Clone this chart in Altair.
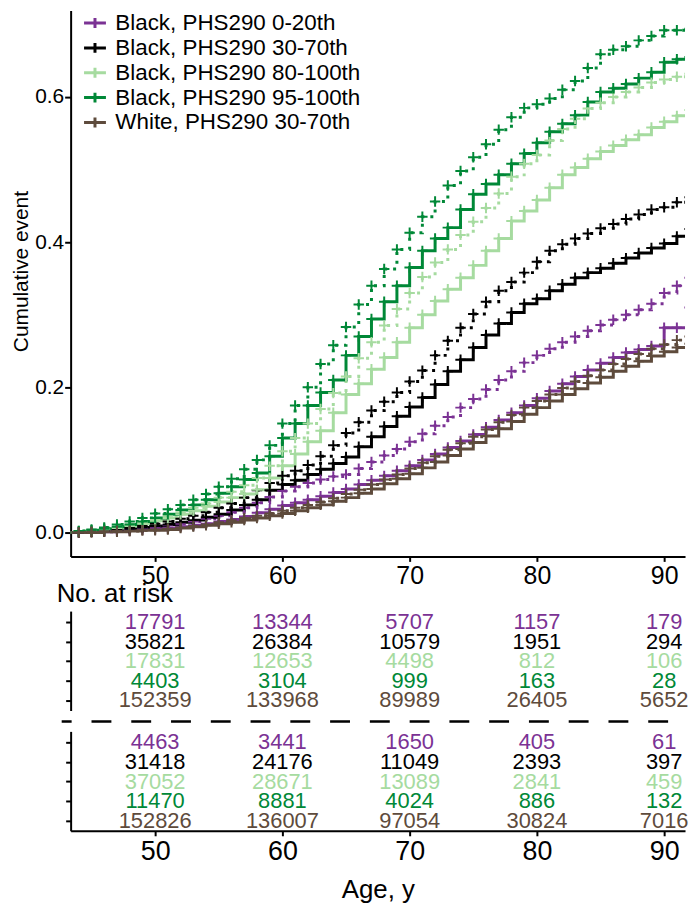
import altair as alt
import pandas as pd

groups = ["Black, PHS290 0-20th", "Black, PHS290 30-70th", "Black, PHS290 80-100th",
          "Black, PHS290 95-100th", "White, PHS290 30-70th"]
colors = ["#7B3294", "#000000", "#A6DBA0", "#008837", "#5E4B3C"]

ages = list(range(43, 93))

# cumulative event, one value per year of age (43..92)
b0_sol = [0.000, 0.000, 0.001, 0.001, 0.002, 0.003, 0.004, 0.005, 0.006, 0.008,
          0.010, 0.012, 0.015, 0.018, 0.022, 0.027, 0.032, 0.037, 0.041, 0.045,
          0.050, 0.055, 0.060, 0.066, 0.072, 0.078, 0.085, 0.092, 0.100, 0.108,
          0.117, 0.126, 0.135, 0.145, 0.155, 0.165, 0.175, 0.185, 0.195, 0.205,
          0.215, 0.224, 0.233, 0.241, 0.248, 0.252, 0.257, 0.282, 0.282, 0.310]
b0_dot = [0.000, 0.001, 0.001, 0.002, 0.003, 0.004, 0.006, 0.008, 0.010, 0.012,
          0.015, 0.019, 0.023, 0.028, 0.034, 0.041, 0.049, 0.057, 0.063, 0.068,
          0.073, 0.077, 0.080, 0.088, 0.097, 0.106, 0.115, 0.125, 0.136, 0.147,
          0.159, 0.172, 0.184, 0.197, 0.210, 0.222, 0.234, 0.244, 0.253, 0.262,
          0.270, 0.278, 0.286, 0.293, 0.300, 0.307, 0.315, 0.330, 0.340, 0.351]
b30_sol = [0.000, 0.000, 0.001, 0.002, 0.003, 0.005, 0.007, 0.009, 0.011, 0.014,
           0.017, 0.021, 0.025, 0.031, 0.038, 0.045, 0.058, 0.066, 0.072, 0.080,
           0.087, 0.095, 0.104, 0.118, 0.132, 0.146, 0.160, 0.173, 0.186, 0.204,
           0.222, 0.238, 0.255, 0.272, 0.288, 0.303, 0.315, 0.322, 0.333, 0.342,
           0.351, 0.358, 0.364, 0.371, 0.378, 0.385, 0.392, 0.398, 0.408, 0.418]
b30_dot = [0.000, 0.001, 0.002, 0.003, 0.005, 0.007, 0.009, 0.012, 0.015, 0.019,
           0.023, 0.028, 0.034, 0.040, 0.048, 0.058, 0.068, 0.078, 0.085, 0.093,
           0.105, 0.120, 0.137, 0.152, 0.168, 0.180, 0.193, 0.208, 0.223, 0.244,
           0.264, 0.282, 0.301, 0.318, 0.333, 0.345, 0.358, 0.373, 0.388, 0.397,
           0.405, 0.412, 0.419, 0.425, 0.432, 0.438, 0.445, 0.448, 0.455, 0.462]
b80_sol = [0.000, 0.001, 0.002, 0.004, 0.006, 0.009, 0.012, 0.016, 0.020, 0.025,
           0.030, 0.036, 0.042, 0.048, 0.053, 0.059, 0.075, 0.092, 0.108, 0.125,
           0.140, 0.165, 0.190, 0.205, 0.225, 0.241, 0.262, 0.282, 0.300, 0.319,
           0.335, 0.351, 0.368, 0.388, 0.405, 0.429, 0.443, 0.458, 0.475, 0.493,
           0.503, 0.515, 0.525, 0.533, 0.541, 0.548, 0.558, 0.566, 0.574, 0.582]
b80_dot = [0.000, 0.002, 0.003, 0.005, 0.008, 0.011, 0.014, 0.018, 0.023, 0.028,
           0.034, 0.040, 0.048, 0.056, 0.065, 0.075, 0.092, 0.112, 0.130, 0.150,
           0.170, 0.192, 0.215, 0.240, 0.262, 0.285, 0.308, 0.330, 0.352, 0.372,
           0.390, 0.410, 0.428, 0.447, 0.467, 0.490, 0.508, 0.520, 0.540, 0.556,
           0.570, 0.584, 0.592, 0.600, 0.607, 0.613, 0.620, 0.624, 0.628, 0.632]
b95_sol = [0.000, 0.001, 0.003, 0.005, 0.008, 0.011, 0.015, 0.020, 0.025, 0.031,
           0.038, 0.045, 0.054, 0.063, 0.073, 0.082, 0.105, 0.130, 0.150, 0.175,
           0.193, 0.210, 0.244, 0.270, 0.294, 0.318, 0.340, 0.365, 0.388, 0.405,
           0.420, 0.445, 0.466, 0.480, 0.493, 0.508, 0.522, 0.537, 0.552, 0.563,
           0.575, 0.593, 0.607, 0.612, 0.618, 0.626, 0.634, 0.648, 0.652, 0.655]
b95_dot = [0.000, 0.002, 0.004, 0.007, 0.011, 0.015, 0.020, 0.026, 0.032, 0.038,
           0.045, 0.053, 0.063, 0.074, 0.087, 0.100, 0.120, 0.150, 0.175, 0.200,
           0.232, 0.258, 0.283, 0.314, 0.340, 0.363, 0.390, 0.413, 0.435, 0.456,
           0.478, 0.498, 0.517, 0.535, 0.555, 0.572, 0.585, 0.590, 0.598, 0.610,
           0.622, 0.640, 0.659, 0.665, 0.670, 0.678, 0.684, 0.692, 0.692, 0.694]
w30_sol = [0.000, 0.000, 0.000, 0.001, 0.001, 0.002, 0.003, 0.003, 0.004, 0.006,
           0.008, 0.010, 0.012, 0.014, 0.017, 0.020, 0.023, 0.026, 0.030, 0.034,
           0.038, 0.043, 0.048, 0.054, 0.060, 0.067, 0.074, 0.081, 0.089, 0.097,
           0.106, 0.115, 0.124, 0.133, 0.143, 0.153, 0.163, 0.172, 0.181, 0.190,
           0.198, 0.206, 0.214, 0.222, 0.229, 0.236, 0.243, 0.249, 0.255, 0.260]
w30_dot = [0.000, 0.000, 0.001, 0.001, 0.002, 0.002, 0.003, 0.004, 0.005, 0.007,
           0.009, 0.011, 0.014, 0.017, 0.020, 0.023, 0.026, 0.030, 0.034, 0.038,
           0.042, 0.047, 0.053, 0.059, 0.066, 0.073, 0.080, 0.088, 0.096, 0.105,
           0.114, 0.123, 0.132, 0.142, 0.152, 0.162, 0.172, 0.181, 0.190, 0.199,
           0.208, 0.216, 0.224, 0.232, 0.239, 0.246, 0.253, 0.259, 0.265, 0.270]

solid = dict(zip(groups, [b0_sol, b30_sol, b80_sol, b95_sol, w30_sol]))
dotted = dict(zip(groups, [b0_dot, b30_dot, b80_dot, b95_dot, w30_dot]))

risk_ages = [50, 60, 70, 80, 90]
risk1 = {
    groups[0]: [17791, 13344, 5707, 1157, 179],
    groups[1]: [35821, 26384, 10579, 1951, 294],
    groups[2]: [17831, 12653, 4498, 812, 106],
    groups[3]: [4403, 3104, 999, 163, 28],
    groups[4]: [152359, 133968, 89989, 26405, 5652],
}
risk2 = {
    groups[0]: [4463, 3441, 1650, 405, 61],
    groups[1]: [31418, 24176, 11049, 2393, 397],
    groups[2]: [37052, 28671, 13089, 2841, 459],
    groups[3]: [11470, 8881, 4024, 886, 132],
    groups[4]: [152826, 136007, 97054, 30824, 7016],
}

rows = []
for g in groups:
    for a, v in zip(ages, solid[g]):
        rows.append({"group": g, "cohort": "solid", "age": a, "value": v})
    for a, v in zip(ages, dotted[g]):
        rows.append({"group": g, "cohort": "dotted", "age": a, "value": v})
df = pd.DataFrame(rows)

FONT = "Liberation Sans"
W = 618
cscale = alt.Scale(domain=groups, range=colors)
xscale = alt.Scale(domain=[43.36, 91.64], nice=False, zero=False)

x_main = alt.X("age:Q", scale=xscale,
               axis=alt.Axis(values=risk_ages, title=None, labelFontSize=25, tickSize=5,
                             labelPadding=2, domainWidth=2, tickWidth=2, grid=False))
y_main = alt.Y("value:Q", scale=alt.Scale(domain=[-0.033, 0.719], nice=False, zero=False),
               axis=alt.Axis(values=[0, 0.2, 0.4, 0.6], format=".1f", title="Cumulative event",
                             titleFontSize=21, titleFontWeight="normal", labelFontSize=21,
                             tickSize=6, labelPadding=1, titleX=-60, titleY=262,
                             titleBaseline="top", grid=False, domainWidth=2, tickWidth=2))

legend = alt.Legend(title=None, orient="none", legendX=12, legendY=0, padding=0,
                    labelFontSize=22.5, symbolType="M-1,0L1,0M0,-0.45L0,0.45",
                    symbolSize=484, symbolStrokeWidth=3, labelOffset=8, rowPadding=1,
                    labelFont=FONT, labelColor="black", labelLimit=0)

lines = alt.Chart(df).mark_line(interpolate="step-after", strokeWidth=3, clip=True).encode(
    x=x_main, y=y_main,
    color=alt.Color("group:N", scale=cscale, legend=legend),
    strokeDash=alt.StrokeDash("cohort:N",
                              scale=alt.Scale(domain=["solid", "dotted"], range=[[1, 0], [3, 6]]),
                              legend=None),
    detail="cohort:N",
)
pts = alt.Chart(df).mark_point(shape="M-1,0L1,0M0,-1L0,1", size=110, strokeWidth=2,
                               filled=False, opacity=1, clip=True).encode(
    x=x_main, y=y_main,
    color=alt.Color("group:N", scale=cscale, legend=None),
)
main = alt.layer(lines, pts).properties(width=W, height=549)


def block(risk, show_x, title=None):
    recs = []
    for i, g in enumerate(groups):
        for a, n in zip(risk_ages, risk[g]):
            recs.append({"group": g, "row": i + 1, "age": a, "n": str(n)})
    rdf = pd.DataFrame(recs)
    if show_x:
        xax = alt.Axis(values=risk_ages, title="Age, y", titleFontSize=26, titleFontWeight="normal",
                       titlePadding=12, labelFontSize=27, tickSize=5, labelPadding=3,
                       domainWidth=2, tickWidth=2, grid=False)
    else:
        xax = None
    txt = alt.Chart(rdf).mark_text(fontSize=22, font=FONT).encode(
        x=alt.X("age:Q", scale=xscale, axis=xax),
        y=alt.Y("row:Q", scale=alt.Scale(domain=[0.44, 5.51], reverse=True, nice=False, zero=False),
                axis=alt.Axis(values=[1, 2, 3, 4, 5], labels=False, title=None, tickSize=5,
                              domainWidth=2, tickWidth=2, grid=False)),
        text="n:N",
        color=alt.Color("group:N", scale=cscale, legend=None),
    )
    layers = [txt]
    if show_x:
        sep = alt.Chart(pd.DataFrame({"k": [0]})).mark_rule(
            strokeDash=[20, 20], strokeDashOffset=10, strokeWidth=2.5, color="black").encode(
            x=alt.value(-9), x2=alt.value(W), y=alt.value(-10))
        layers.append(sep)
    ch = alt.layer(*layers).properties(width=W, height=100)
    if title:
        ch = ch.properties(title=alt.TitleParams(title, anchor="start", fontSize=26,
                                                 fontWeight="normal", offset=4, dx=-8,
                                                 font=FONT, color="black"))
    return ch


b1 = block(risk1, False, "No. at risk")
b2 = block(risk2, True)

chart = alt.vconcat(
    main,
    alt.vconcat(b1, b2, spacing=21, bounds="flush"),
    spacing=55, bounds="flush",
).properties(
    padding={"left": 3, "top": 0, "right": 0, "bottom": 0}
).configure(font=FONT).configure_view(stroke=None).configure_axis(
    grid=False, domainColor="black", tickColor="black", labelColor="black",
    titleColor="black", labelFont=FONT, titleFont=FONT
)

chart.save("out.html", embed_options={"renderer": "svg", "actions": False})
